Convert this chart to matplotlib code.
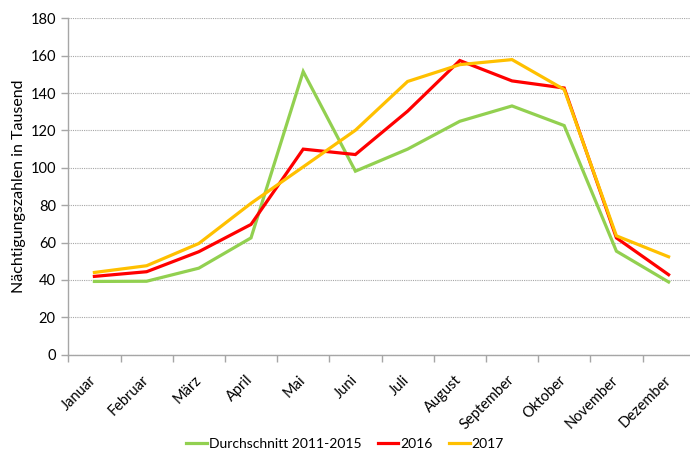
import matplotlib
matplotlib.use("Agg")
import matplotlib.pyplot as plt
import matplotlib.transforms as mtransforms
import numpy as np

months = ["Januar", "Februar", "März", "April", "Mai", "Juni", "Juli",
          "August", "September", "Oktober", "November", "Dezember"]
avg_2011_2015 = [39.2, 39.3, 46.3, 62.5, 151.5, 98.2, 110.0, 124.9, 133.1, 122.6, 55.4, 38.9]
y2016 = [41.9, 44.4, 55.1, 69.7, 110.0, 107.1, 130.3, 157.4, 146.5, 142.7, 62.5, 42.8]
y2017 = [44.0, 47.6, 59.5, 81.0, 100.5, 120.1, 146.2, 155.2, 157.9, 141.9, 63.6, 52.4]
series_labels = ["Durchschnitt 2011-2015", "2016", "2017"]
yticks = [0, 20, 40, 60, 80, 100, 120, 140, 160, 180]

plt.rcParams['font.family'] = ['Lato', 'DejaVu Sans']

fig = plt.figure(figsize=(6.9, 4.55), dpi=100)
ax = fig.add_axes([68.3/690, 1 - 354.7/455, 626.4/690, (354.7 - 18.3)/455])

x = np.arange(len(months))
ax.plot(x, avg_2011_2015, color="#92D050", lw=2.3, label=series_labels[0], solid_joinstyle='miter')
ax.plot(x, y2016, color="#FF0000", lw=2.3, label=series_labels[1], solid_joinstyle='miter')
ax.plot(x, y2017, color="#FFC000", lw=2.3, label=series_labels[2], solid_joinstyle='miter')

ax.set_xlim(-0.5, len(months) - 0.5)
ax.set_ylim(0, 180)
ax.set_yticks(yticks)
ax.yaxis.grid(True, color="#A6A6A6", linestyle=(0, (1, 1)), linewidth=0.8)
ax.set_axisbelow(True)

ax.set_xticks(x)
ax.set_xticklabels(months, rotation=45, ha="right", rotation_mode="anchor", fontsize=10.5)
ax.set_xticks(np.arange(-0.5, len(months) + 0.5, 1), minor=True)
ax.tick_params(axis="x", which="major", length=0, pad=13)
ax.tick_params(axis="x", which="minor", length=5, color="#A6A6A6", width=1)
ax.tick_params(axis="y", length=5, color="#A6A6A6", width=1, labelsize=10.5, pad=4)
offset = mtransforms.ScaledTranslation(-5/100, 0, fig.dpi_scale_trans)
for lbl in ax.get_xticklabels():
    lbl.set_transform(lbl.get_transform() + offset)

for s in ["top", "right"]:
    ax.spines[s].set_visible(False)
for s in ["left", "bottom"]:
    ax.spines[s].set_color("#A6A6A6")
    ax.spines[s].set_linewidth(1)

ax.set_ylabel("Nächtigungszahlen in Tausend", fontsize=11.5, labelpad=3)

fig.legend(loc="center", bbox_to_anchor=(0.5, 1 - 444/455), ncol=3, frameon=False,
           fontsize=10, handlelength=1.5, handletextpad=0.15, columnspacing=1.15)

fig.savefig("out.png", dpi=100)
